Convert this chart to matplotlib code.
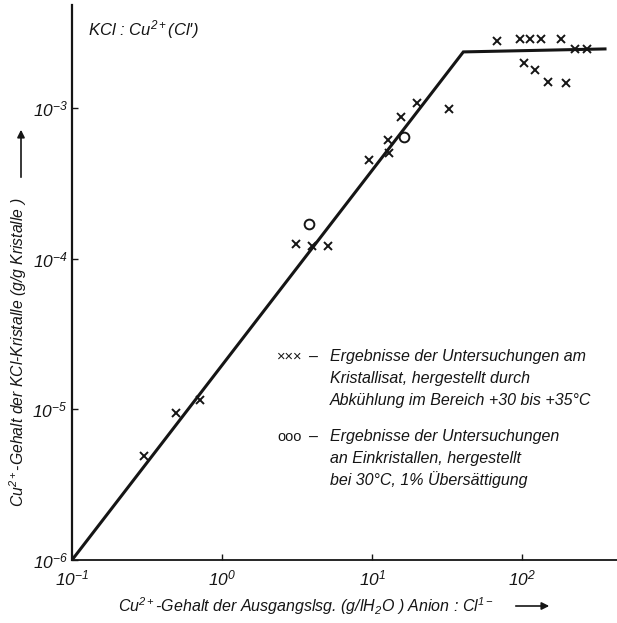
import matplotlib
matplotlib.use("Agg")
import matplotlib.pyplot as plt
from matplotlib.ticker import FixedLocator, NullLocator

# fonts: italic sans like the old drawing
FONT = ['Liberation Sans', 'DejaVu Sans']
plt.rcParams['font.family'] = FONT
plt.rcParams['font.style'] = 'italic'
plt.rcParams['mathtext.fontset'] = 'custom'
plt.rcParams['mathtext.rm'] = 'Liberation Sans:italic'
plt.rcParams['mathtext.it'] = 'Liberation Sans:italic'
plt.rcParams['mathtext.sf'] = 'Liberation Sans:italic'

INK = '#151515'

# measured points (x = g/l H2O of the solution, y = g/g crystals)
cross_x = [0.30, 0.49, 0.71, 3.1, 3.96, 5.06, 9.6, 12.9, 12.7, 15.5, 19.8, 32.7,
           68, 97, 113, 134, 182, 225, 270, 102, 122, 149, 196]
cross_y = [4.9e-6, 9.5e-6, 1.16e-5, 1.25e-4, 1.21e-4, 1.21e-4, 4.5e-4, 5.0e-4,
           6.1e-4, 8.7e-4, 1.08e-3, 9.8e-4, 2.79e-3, 2.87e-3, 2.87e-3, 2.87e-3,
           2.87e-3, 2.47e-3, 2.47e-3, 2.0e-3, 1.79e-3, 1.49e-3, 1.47e-3]
circle_x = [3.78, 16.4]
circle_y = [1.69e-4, 6.4e-4]

# drawn curve
line_x = [0.1, 40.5, 356]
line_y = [1e-6, 2.36e-3, 2.47e-3]

xtick_vals = [0.1, 1, 10, 100]
xtick_labels = [r'$10^{-1}$', r'$10^{0}$', r'$10^{1}$', r'$10^{2}$']
ytick_vals = [1e-6, 1e-5, 1e-4, 1e-3]
ytick_labels = [r'$10^{-6}$', r'$10^{-5}$', r'$10^{-4}$', r'$10^{-3}$']

legend_lines_1 = ['Ergebnisse der Untersuchungen am',
                  'Kristallisat, hergestellt durch',
                  'Abkühlung im Bereich +30 bis +35°C']
legend_lines_2 = ['Ergebnisse der Untersuchungen',
                  'an Einkristallen, hergestellt',
                  'bei 30°C, 1% Übersättigung']

fig = plt.figure(figsize=(6.17, 6.23), dpi=100)
ax = fig.add_axes([0.1167, 0.1011, 0.8833, 0.891])
ax.set_xscale('log')
ax.set_yscale('log')
ax.set_xlim(0.1, 428)
ax.set_ylim(1e-6, 4.84e-3)

ax.plot(line_x, line_y, color=INK, lw=2.2, solid_joinstyle='miter')
ax.plot(cross_x, cross_y, ls='none', marker='x', ms=6, mew=1.4, color=INK)
ax.plot(circle_x, circle_y, ls='none', marker='o', ms=7, mew=1.4,
        mfc='none', mec=INK)

for s in ['top', 'right']:
    ax.spines[s].set_visible(False)
ax.spines['left'].set_linewidth(1.6)
ax.spines['bottom'].set_linewidth(1.3)
ax.spines['left'].set_color(INK)
ax.spines['bottom'].set_color(INK)

ax.xaxis.set_major_locator(FixedLocator(xtick_vals))
ax.xaxis.set_minor_locator(NullLocator())
ax.yaxis.set_major_locator(FixedLocator(ytick_vals))
ax.yaxis.set_minor_locator(NullLocator())
ax.set_xticklabels(xtick_labels)
ax.set_yticklabels(ytick_labels)
ax.tick_params(direction='in', length=4, width=1, colors=INK, labelsize=12.5)
ax.tick_params(axis='x', pad=6)
ax.tick_params(axis='y', pad=3)

ax.text(0.03, 0.955, r"KCl : Cu$^{2+}$(Cl')", transform=ax.transAxes,
        fontsize=12, color=INK, va='center', ha='left')

# legend block written as text, like the original
for y0, mark, lines in [(357, '×××', legend_lines_1), (437, 'ooo', legend_lines_2)]:
    fig.text(277 / 617, 1 - y0 / 623, mark, fontsize=10.5, color=INK,
             va='center', style='normal')
    fig.text(308 / 617, 1 - y0 / 623, '–', fontsize=11.5, color=INK,
             va='center')
    for i, t in enumerate(lines):
        fig.text(330 / 617, 1 - (y0 + i * 21.5) / 623, t, fontsize=11.5,
                 color=INK, va='center')

# axis titles with arrows
fig.text(118 / 617, 1 - 606 / 623,
         r"Cu$^{2+}$-Gehalt der Ausgangslsg. (g/lH$_2$O ) Anion : Cl$^{1-}$",
         fontsize=11.5, color=INK, va='center', ha='left')
ax.annotate('', xy=(552 / 617, 1 - 606 / 623), xytext=(513 / 617, 1 - 606 / 623),
            xycoords='figure fraction', textcoords='figure fraction',
            annotation_clip=False,
            arrowprops=dict(arrowstyle='-|>', color=INK, lw=1.2,
                            mutation_scale=11))
fig.text(18 / 617, 1 - 352 / 623,
         r"Cu$^{2+}$-Gehalt der KCl-Kristalle (g/g Kristalle )",
         fontsize=11.3, color=INK, rotation=90, va='center', ha='center')
ax.annotate('', xy=(21 / 617, 1 - 127 / 623), xytext=(21 / 617, 1 - 180 / 623),
            xycoords='figure fraction', textcoords='figure fraction',
            annotation_clip=False,
            arrowprops=dict(arrowstyle='-|>', color=INK, lw=1.2,
                            mutation_scale=11))

fig.savefig('out.png', dpi=100)
